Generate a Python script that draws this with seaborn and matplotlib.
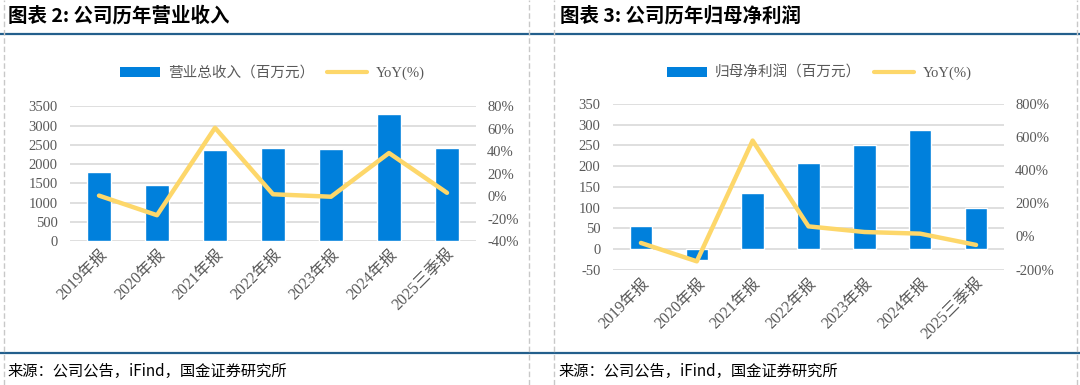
import numpy as np
import matplotlib
matplotlib.use('Agg')
import matplotlib.pyplot as plt
import seaborn as sns
from matplotlib.patches import Patch
from matplotlib.lines import Line2D

# Data
periods = ['2019年报', '2020年报', '2021年报', '2022年报', '2023年报', '2024年报', '2025三季报']
revenue = [1800, 1470, 2380, 2420, 2400, 3310, 2420]           # 百万元
revenue_yoy = [0.5, -17.0, 61.0, 1.7, -0.5, 38.5, 3.0]         # %
net_profit = [55, -28, 135, 207, 250, 287, 100]                # 百万元
net_profit_yoy = [-39, -150, 579, 61, 27, 17, -51]             # %

BAR_COLOR = '#0080DC'
LINE_COLOR = '#FDD76A'
GRID_COLOR = '#D9D9D9'
TEXT_COLOR = '#595959'
RULE_COLOR = '#235F8C'

sns.set_style('white')
plt.rcParams['font.family'] = ['Liberation Serif', 'Noto Sans CJK SC', 'DejaVu Sans']
plt.rcParams['axes.unicode_minus'] = False

W, H = 1080, 385
fig = plt.figure(figsize=(W / 100, H / 100), dpi=100)


def px_rect(x0, y0, x1, y1):
    # pixel box (top-left origin) -> figure fraction rect
    return [x0 / W, 1 - y1 / H, (x1 - x0) / W, (y1 - y0) / H]


def draw_panel(rect, values, yoy, ylim, yticks, y2lim, y2ticks, bar_name, legend_xy):
    ax = fig.add_axes(rect)
    sns.barplot(x=periods, y=values, ax=ax, color=BAR_COLOR, saturation=1, width=0.4)
    ax.set_xlim(-0.5, len(periods) - 0.5)
    ax.set_ylim(*ylim)
    ax.set_yticks(yticks)
    ax.yaxis.grid(True, color=GRID_COLOR, lw=1.2)
    ax.set_axisbelow(True)
    for s in ax.spines.values():
        s.set_visible(False)
    ax.tick_params(axis='both', length=0, colors=TEXT_COLOR, labelsize=10.5)
    ax.tick_params(axis='y', pad=9)
    ax.tick_params(axis='x', labelsize=11.5, pad=4)
    plt.setp(ax.get_xticklabels(), rotation=45, ha='right', rotation_mode='anchor')
    ax.set_xlabel('')
    ax.set_ylabel('')

    ax2 = ax.twinx()
    sns.lineplot(x=np.arange(len(periods)), y=yoy, ax=ax2, color=LINE_COLOR, lw=3.2,
                 solid_joinstyle='round', solid_capstyle='round')
    ax2.set_ylim(*y2lim)
    ax2.set_yticks(y2ticks)
    ax2.set_yticklabels([f'{t}%' for t in y2ticks])
    ax2.set_xlim(-0.5, len(periods) - 0.5)
    for s in ax2.spines.values():
        s.set_visible(False)
    ax2.tick_params(axis='y', length=0, colors=TEXT_COLOR, labelsize=10.5, pad=8)
    ax2.set_ylabel('')

    handles = [Patch(facecolor=BAR_COLOR, edgecolor='none'),
               Line2D([], [], color=LINE_COLOR, lw=3)]
    fig.legend(handles, [bar_name, 'YoY(%)'], loc='center', ncol=2, frameon=False,
               bbox_to_anchor=legend_xy, fontsize=10.5, labelcolor=TEXT_COLOR,
               handlelength=2.75, handletextpad=0.55, columnspacing=0.9)


draw_panel(px_rect(70, 106.5, 476, 241), revenue, revenue_yoy,
           (0, 3500), range(0, 3501, 500), (-40, 80), list(range(-40, 81, 20)),
           '营业总收入（百万元）', (272 / W, 1 - 73 / H))

draw_panel(px_rect(613, 104, 1004, 269.6), net_profit, net_profit_yoy,
           (-50, 350), range(-50, 351, 50), (-200, 800), list(range(-200, 801, 200)),
           '归母净利润（百万元）', (819 / W, 1 - 73 / H))

# Report frame: rules, dashed separators, titles and sources
for yy in (33.5, 352.7):
    fig.add_artist(Line2D([0, 1], [1 - yy / H] * 2, transform=fig.transFigure,
                          color=RULE_COLOR, lw=1.6))
for xx in (4, 529, 554, 1077):
    fig.add_artist(Line2D([xx / W] * 2, [0, 1], transform=fig.transFigure,
                          color='#C8C8C8', lw=1, linestyle=(0, (4, 2))))

title_kw = dict(fontsize=14, fontweight='bold', color='black', va='center',
                family=['Noto Sans CJK SC', 'DejaVu Sans'])
fig.text(8 / W, 1 - 16 / H, '图表 2: 公司历年营业收入', **title_kw)
fig.text(560 / W, 1 - 16 / H, '图表 3: 公司历年归母净利润', **title_kw)

src_kw = dict(fontsize=11, color='black', va='center',
              family=['Noto Sans CJK SC', 'DejaVu Sans'])
fig.text(7 / W, 1 - 371.5 / H, '来源：公司公告，iFind，国金证券研究所', **src_kw)
fig.text(558 / W, 1 - 371.5 / H, '来源：公司公告，iFind，国金证券研究所', **src_kw)

fig.savefig('out.png', dpi=100)
